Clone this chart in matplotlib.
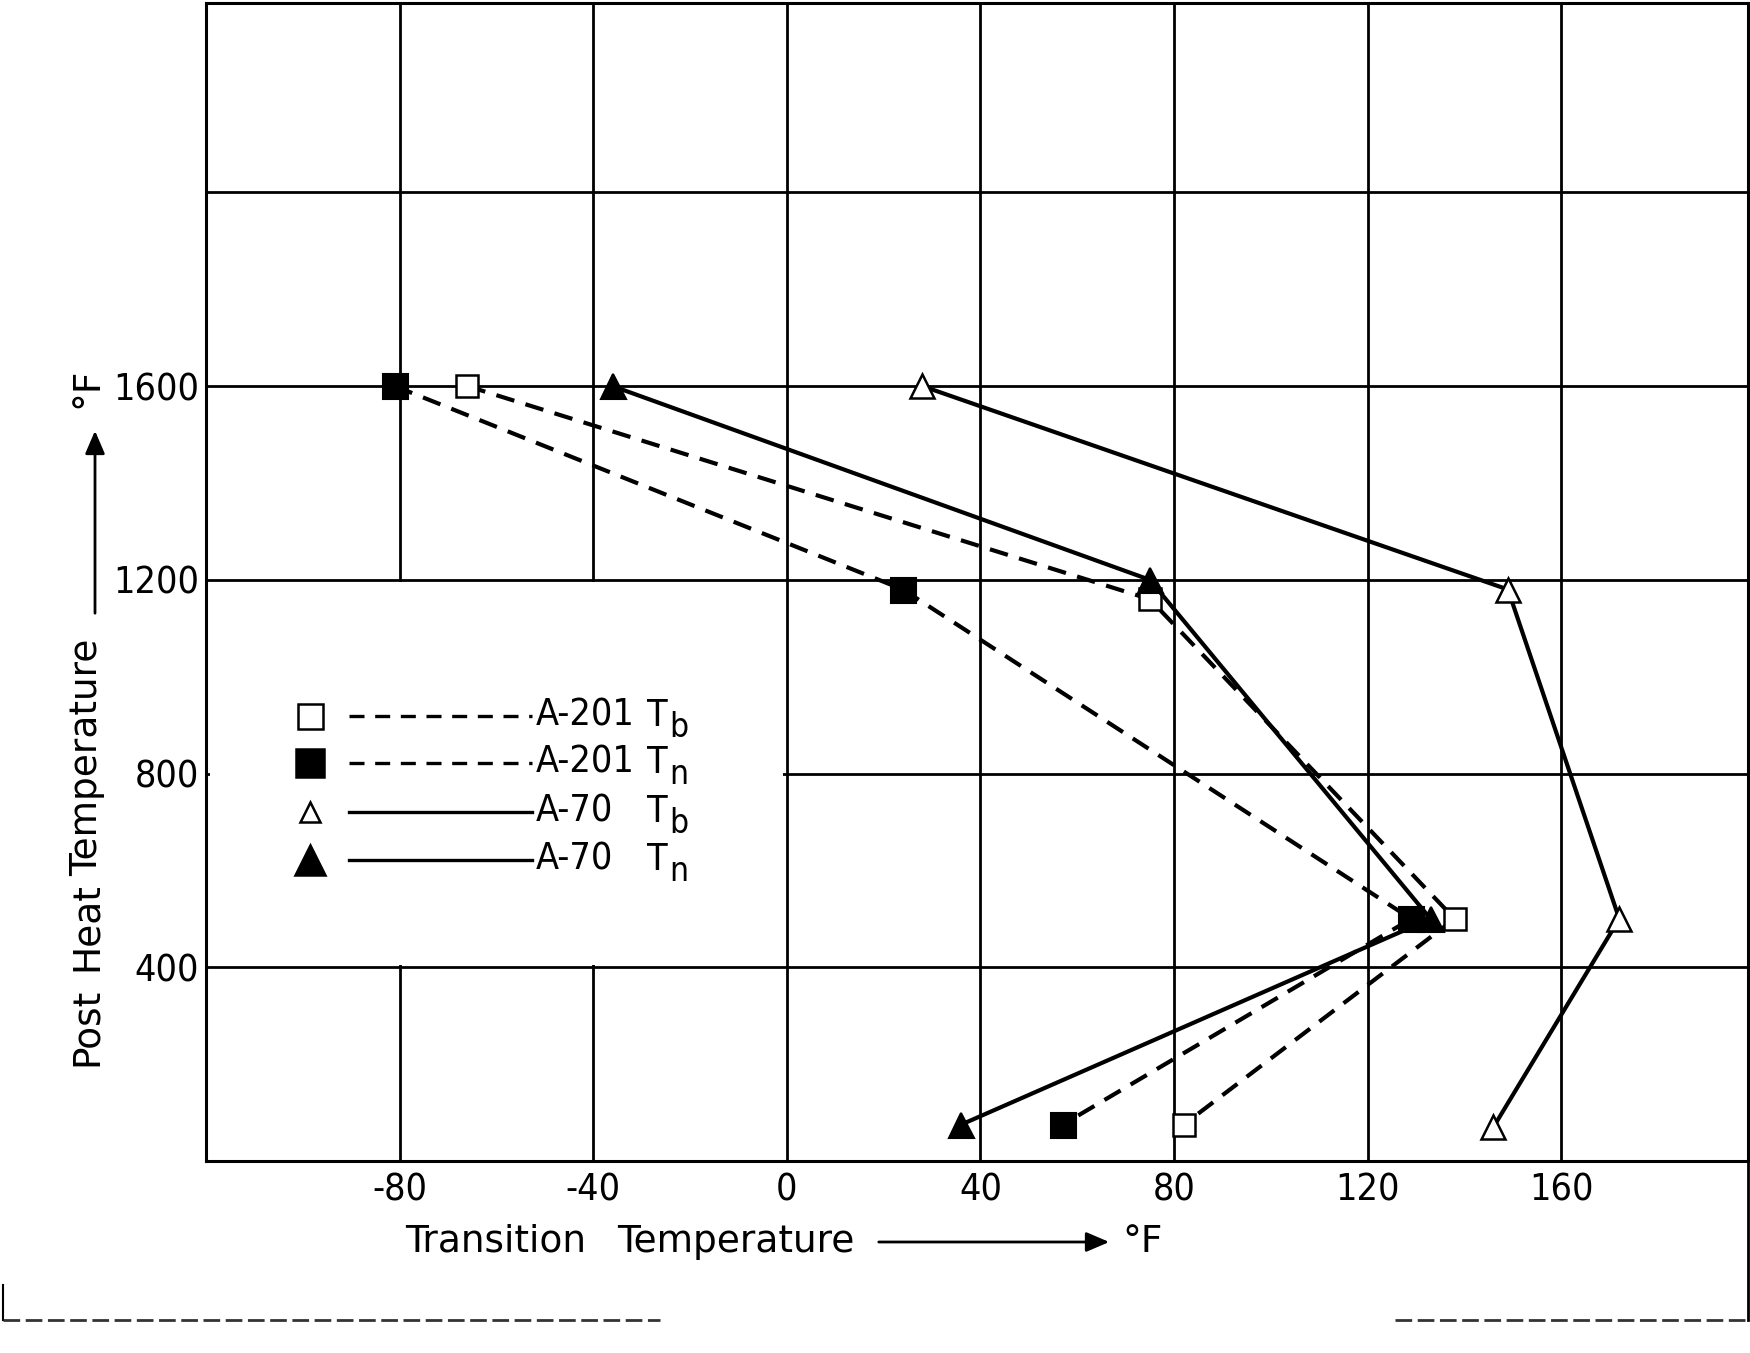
import matplotlib
matplotlib.use("Agg")
import matplotlib.pyplot as plt
from matplotlib.patches import Rectangle, FancyArrowPatch
from matplotlib.lines import Line2D

# Transition temperature (°F) against post heat temperature (°F)
a201_tb_x = [-66, 75, 138, 82]
a201_tb_y = [1600, 1160, 500, 75]

a201_tn_x = [-81, 24, 129, 57]
a201_tn_y = [1600, 1180, 500, 75]

a70_tb_x = [28, 149, 172, 146]
a70_tb_y = [1600, 1180, 500, 70]

a70_tn_x = [-36, 75, 133, 36]
a70_tn_y = [1600, 1200, 500, 75]

x_ticks = [-120, -80, -40, 0, 40, 80, 120, 160]
x_labels = ["", "-80", "-40", "0", "40", "80", "120", "160"]
y_ticks = [400, 800, 1200, 1600, 2000]
y_labels = ["400", "800", "1200", "1600", ""]

plt.rcParams["font.family"] = ["DejaVu Sans"]
plt.rcParams["font.stretch"] = "condensed"
FS = 27

W, H = 1750, 1353
fig = plt.figure(figsize=(W / 100, H / 100), dpi=100)
fig.patch.set_facecolor("white")

ax = fig.add_axes([206 / W, 1 - 1161 / H, (1748 - 206) / W, (1161 - 3) / H])
ax.set_xlim(-120, 198.6)
ax.set_ylim(0, 2391)

ax.set_xticks(x_ticks)
ax.set_xticklabels(x_labels)
ax.set_yticks(y_ticks)
ax.set_yticklabels(y_labels)
ax.tick_params(length=0, labelsize=FS)
ax.tick_params(axis="x", pad=8)
ax.tick_params(axis="y", pad=5)

ax.set_axisbelow(True)
ax.grid(True, color="black", lw=2.0)
for sp in ax.spines.values():
    sp.set_linewidth(2.2)
    sp.set_color("black")

# blank panel behind the key
ax.add_patch(Rectangle((-119.2, 405), 118.4, 790, facecolor="white",
                       edgecolor="none", zorder=1))

dash = (4.5, 2.8)
ax.plot(a201_tn_x, a201_tn_y, color="black", lw=3.0, dashes=dash,
        marker="s", ms=18, mfc="black", mec="black", mew=1.5, zorder=3)
ax.plot(a201_tb_x, a201_tb_y, color="black", lw=3.0, dashes=dash,
        marker="s", ms=16, mfc="white", mec="black", mew=1.8, zorder=3)
ax.plot(a70_tn_x, a70_tn_y, color="black", lw=3.0,
        marker="^", ms=18, mfc="black", mec="black", mew=1.5, zorder=4)
ax.plot(a70_tb_x, a70_tb_y, color="black", lw=3.0,
        marker="^", ms=17, mfc="white", mec="black", mew=1.8, zorder=4)

# key, drawn by hand inside the blank panel
def fx(px):
    return (px - 206) / (1748 - 206)

def fy(py):
    return (1161 - py) / (1161 - 3)

key = [
    ("s", "white", 18, (4.5, 3.2), "A-201", "b", 716),
    ("s", "black", 20, (4.5, 3.2), "A-201", "n", 763),
    ("^", "white", 15, None, "A-70", "b", 812),
    ("^", "black", 21, None, "A-70", "n", 860),
]
for mk, fc, ms, ds, name, sub, py in key:
    ax.plot([fx(310)], [fy(py)], transform=ax.transAxes, marker=mk, ms=ms,
            mfc=fc, mec="black", mew=1.8, ls="none", zorder=5)
    ln = Line2D([fx(349), fx(532)], [fy(py), fy(py)], transform=ax.transAxes,
                color="black", lw=2.4, zorder=5)
    if ds is not None:
        ln.set_dashes(ds)
    ax.add_line(ln)
    ax.text(fx(536), fy(py), name, transform=ax.transAxes, fontsize=FS,
            ha="left", va="center", zorder=6)
    ax.text(fx(647), fy(py), "T", transform=ax.transAxes, fontsize=FS,
            ha="left", va="center", zorder=6)
    ax.text(fx(669), fy(py + 12), sub, transform=ax.transAxes, fontsize=24,
            ha="left", va="center", zorder=6)

# axis titles with arrows
ty = 1 - 1242 / H
fig.text(405 / W, ty, "Transition", fontsize=FS, ha="left", va="center",
         fontstretch="normal")
fig.text(617 / W, ty, "Temperature", fontsize=FS, ha="left", va="center",
         fontstretch="normal")
fig.text(1122 / W, ty, "°F", fontsize=FS, ha="left", va="center",
         fontstretch="normal")
fig.add_artist(FancyArrowPatch(
    (876 / W, ty), (1112 / W, ty),
    transform=fig.transFigure, arrowstyle="-|>,head_length=14,head_width=6",
    color="black", lw=2.0, mutation_scale=1))

for word, py in [("Post", 1066), ("Heat", 971), ("Temperature", 876)]:
    fig.text(87 / W, 1 - py / H, word, fontsize=FS, rotation=90,
             ha="center", va="bottom", fontstretch="normal")
fig.text(87 / W, 1 - 388 / H, "°F", fontsize=FS, rotation=90,
         ha="center", va="center", fontstretch="normal")
fig.add_artist(FancyArrowPatch(
    (95 / W, 1 - 616 / H), (95 / W, 1 - 428 / H),
    transform=fig.transFigure, arrowstyle="-|>,head_length=14,head_width=6",
    color="black", lw=2.0, mutation_scale=1))

# outer frame of the sheet
fig.add_artist(Line2D([1748 / W, 1748 / W], [1 - 1161 / H, 1 - 1320 / H],
                      transform=fig.transFigure, color="black", lw=2.0))
fig.add_artist(Line2D([3 / W, 3 / W], [1 - 1285 / H, 1 - 1320 / H],
                      transform=fig.transFigure, color="black", lw=1.5))
for x0, x1 in [(3, 660), (1395, 1748)]:
    fig.add_artist(Line2D([x0 / W, x1 / W], [1 - 1320 / H, 1 - 1320 / H],
                          transform=fig.transFigure, color="#333333",
                          lw=2.0, dashes=(6, 2)))

fig.savefig("out.png", dpi=100, facecolor="white")
